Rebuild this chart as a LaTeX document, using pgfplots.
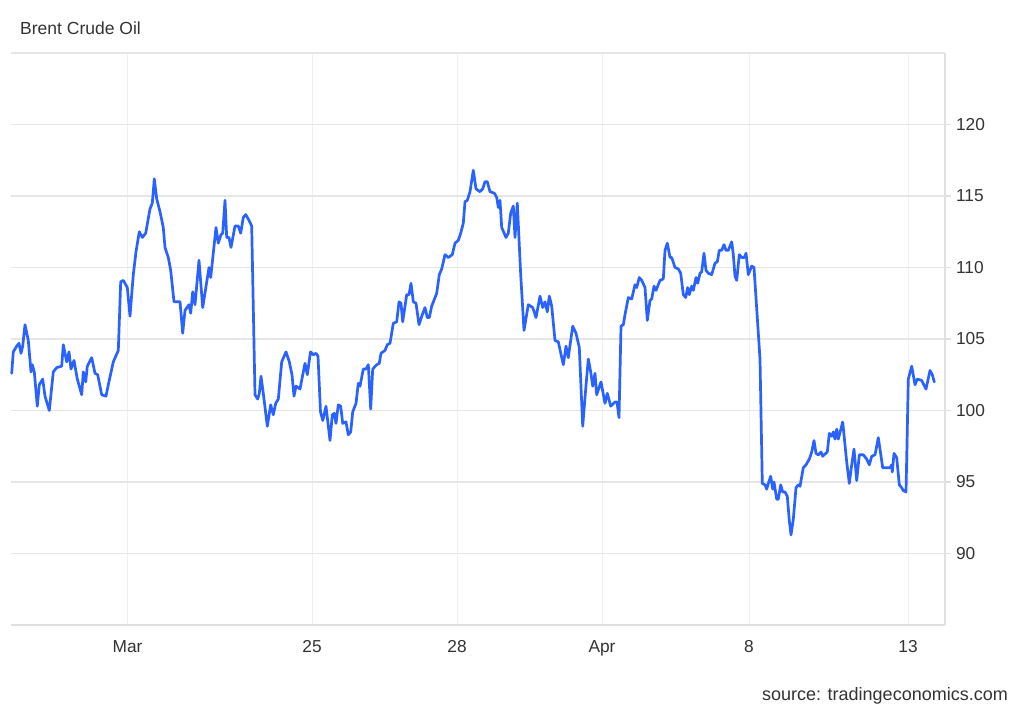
\documentclass[border=0pt]{standalone}
\usepackage{pgfplots}
\pgfplotsset{compat=1.18}
\usepackage{fontspec}
\setmainfont{Liberation Sans}
\definecolor{linecol}{RGB}{41,98,255}
\definecolor{hgrid}{RGB}{230,230,230}
\definecolor{vgrid}{RGB}{236,241,243}
\definecolor{axisgrey}{RGB}{224,224,224}
\definecolor{txt}{RGB}{51,51,51}
\begin{document}
\begin{tikzpicture}[x=1pt,y=1pt]
\useasboundingbox (0,0) rectangle (1024,710);
\begin{axis}[
  at={(11pt,85pt)}, anchor=south west,
  width=934pt, height=572pt, scale only axis,
  xmin=11, xmax=945, ymin=85, ymax=125,
  axis x line*=bottom, axis y line*=right,
  axis line style={draw=axisgrey, line width=1.2pt, -},
  xtick={127.5,312,457,602,749,908},
  xticklabels={Mar,25,28,Apr,8,13},
  ytick={90,95,100,105,110,115,120},
  xmajorgrids, ymajorgrids,
  x grid style={draw=vgrid, line width=1pt},
  y grid style={draw=hgrid, line width=1.2pt},
  tick align=outside,
  major tick length=6pt,
  every major x tick/.append style={draw=none},
  every major y tick/.append style={draw=axisgrey, line width=1.2pt},
  /pgf/number format/assume math mode=true,
  ticklabel style={font=\fontsize{17.3}{20}\selectfont, text=txt},
  yticklabel style={anchor=west, xshift=1.5pt},
  xticklabel style={anchor=north, yshift=-6pt},
  clip=false,
]
\draw[hgrid, line width=1.2pt] (rel axis cs:0,1) -- (rel axis cs:1,1);
\addplot[linecol, line width=2.7pt, line join=round, line cap=round] coordinates {
(11.7,102.6)(13.3,104.1)(16.7,104.5)(19,104.7)(21,104.0)(22.7,104.5)(25,106.0)(28.3,104.9)
(31,102.7)(32.3,103.2)(34.3,102.7)(37.3,100.3)(39.3,101.8)(42.7,102.2)(45,101.0)(49.3,100.0)
(53.3,102.7)(56.7,103.0)(61.7,103.1)(63.3,104.6)(66.7,103.4)(69,104.1)(71,102.9)(74,103.5)
(77.3,102.2)(81.7,101.1)(83.3,102.7)(85.7,102.0)(87.3,103.1)(91.7,103.7)(95,102.6)(97.7,102.5)
(101.7,101.1)(106,101.0)(108.3,101.8)(113.3,103.4)(118.3,104.2)(120.7,109.0)(123.3,109.1)
(127.3,108.6)(130,106.6)(133.3,109.5)(136,111.1)(139.3,112.5)(142.3,112.1)(145.7,112.4)
(150,114.1)(152.3,114.5)(154.3,116.2)(156.7,114.8)(160,113.9)(163.3,112.8)(165,111.4)
(168.3,110.7)(170.7,109.8)(174,107.6)(180,107.6)(182.7,105.4)(185,107.0)(189,107.4)
(190.7,106.8)(192.7,108.3)(195,107.4)(199,110.5)(202.7,107.2)(209,110.0)(210.7,109.3)
(216,112.8)(218.3,111.7)(221,112.3)(222.7,112.4)(225,114.7)(226.7,112.1)(229,112.1)
(231,111.4)(235,112.9)(238.3,112.9)(240.7,112.4)(243.3,113.5)(245.7,113.7)(249,113.3)
(251.7,112.9)(255,101.1)(257.7,100.8)(259.3,101.2)(261,102.4)(263.3,101.2)(267.3,98.9)
(270.7,100.4)(273.3,99.7)(275.7,100.5)(278.3,100.8)(281.7,103.4)(286,104.1)(289.3,103.4)
(292,102.5)(294,101.0)(296,101.7)(300,101.5)(303.3,102.7)(305,103.3)(307.3,102.5)
(310.5,104.1)(313.3,103.9)(316,104.0)(318,103.8)(320.5,99.9)(322.8,99.3)(326,100.3)
(330,97.9)(332.3,99.7)(334.3,99.8)(336,99.1)(338.3,100.4)(340.7,100.3)(342.7,99.1)
(346,99.2)(348.3,98.3)(350.7,98.5)(352.7,99.9)(356,100.5)(358.3,101.9)(360,101.7)
(363.3,102.9)(366,102.9)(368.3,103.2)(370.7,100.1)(372.7,102.9)(376.7,103.2)(379.3,103.3)
(381,104.0)(385,104.2)(387.3,104.6)(390,104.7)(393.3,106.1)(396.7,106.2)(399,107.6)
(401,107.5)(402.7,106.2)(406.7,108.1)(409,108.1)(411,108.9)(413.3,107.6)(416,107.5)
(419,106.0)(422.3,106.7)(425,107.2)(427.3,106.5)(429.3,106.5)(431.7,107.3)(436.7,108.2)
(439.3,109.5)(441.7,109.9)(445,110.9)(448.3,110.7)(452.3,110.9)(455,111.7)(458.3,111.9)
(460.7,112.4)(463.3,113.1)(465,114.6)(467.3,114.7)(470,115.3)(473.3,116.8)(476,115.5)
(480,115.3)(482.7,115.5)(485,116.0)(487.3,116.0)(490,115.3)(494.3,115.2)(496.7,114.9)
(498.3,114.2)(500,114.7)(501.7,112.8)(506,112.1)(508.3,112.4)(510.7,113.8)(513.3,114.3)
(515,112.1)(517.3,114.5)(520.7,109.5)(524,105.6)(528.3,107.4)(532.7,107.2)(536,106.5)
(540,108.0)(542.7,107.2)(545,107.6)(547.3,106.9)(549.3,108.0)(551.7,107.3)(555,104.9)
(558.3,104.8)(563.3,103.2)(566,104.5)(568.3,103.7)(572.7,105.9)(576,105.4)(579.3,104.4)
(582.7,98.9)(585.7,101.5)(588.3,103.6)(590.7,102.7)(592.7,101.7)(595,102.6)(596.7,101.1)
(601,102.0)(605,100.5)(607.3,101.2)(610.7,100.3)(615,100.6)(617,100.6)(619,99.5)
(621,105.9)(623.3,106.0)(625,106.7)(628.3,107.9)(631.7,107.8)(635,108.8)(636.7,108.6)
(639.3,109.3)(641.7,109.1)(645,108.6)(647.3,106.3)(650,107.7)(651.7,107.8)(654,108.7)
(656,108.4)(660,109.1)(663.3,109.2)(665,111.2)(667.3,111.7)(670,110.7)(671.7,110.7)
(675,110.0)(678.3,109.9)(680.7,109.6)(683.3,108.1)(685.7,107.9)(687.7,108.6)(689.3,108.1)
(691.7,108.7)(693.3,108.4)(696,109.3)(697.7,108.9)(700,109.6)(701.7,109.7)(704,111.0)
(706,109.8)(708.3,109.6)(711.7,109.5)(715,110.3)(717.3,110.4)(719.3,111.2)(721.7,111.2)
(724,111.6)(726,111.2)(728.3,111.2)(731.7,111.8)(733.3,110.9)(735,109.4)(736.7,109.1)
(739.3,110.9)(741.7,110.7)(744.3,110.7)(746,111.0)(748.3,109.5)(751.7,110.1)(754,110.0)
(760,103.6)(762.3,94.9)(765,94.8)(766.7,94.5)(768.3,94.9)(770.7,95.4)(772.7,94.5)
(774,95.0)(776.7,93.8)(778.3,93.8)(780.7,94.8)(782.7,94.3)(785,94.3)(787.3,94.0)
(789.3,92.3)(791,91.3)(793.3,92.4)(796,94.6)(798.3,94.8)(800,94.7)(803.3,96.0)(806,96.2)
(809.3,96.6)(811.7,97.1)(814,97.9)(816,97.0)(818.3,96.9)(821,97.1)(822.7,96.8)(825.7,97.0)
(827.3,97.1)(829.3,98.4)(831.7,98.2)(833.3,98.5)(835,98.0)(836.7,98.7)(838.3,98.0)
(842.7,99.2)(846.7,96.4)(849.3,94.9)(851.7,96.2)(854,97.3)(856.7,95.1)(859.3,96.9)
(863.3,96.9)(866.7,96.6)(869.3,96.2)(871.7,96.8)(875,96.9)(878.3,98.1)(882.7,96.0)
(886.7,96.0)(890,96.0)(891.7,96.2)(892.3,95.7)(894,97.0)(896.7,96.7)(899.3,94.8)
(901.7,94.6)(903.3,94.4)(906,94.3)(908.3,102.2)(911.7,103.1)(915,101.8)(917.3,102.2)
(921.7,102.1)(926,101.5)(930,102.8)(932.3,102.5)(934.3,102.0)
};
\end{axis}
\node[anchor=base west, text=txt, font=\fontsize{17.5}{20}\selectfont, inner sep=0pt] at (20,675.7) {Brent Crude Oil};
\node[anchor=base east, text=txt, font=\fontsize{18}{20}\selectfont, inner sep=0pt] at (1008,10) {source: tradingeconomics.com};
\end{tikzpicture}
\end{document}
